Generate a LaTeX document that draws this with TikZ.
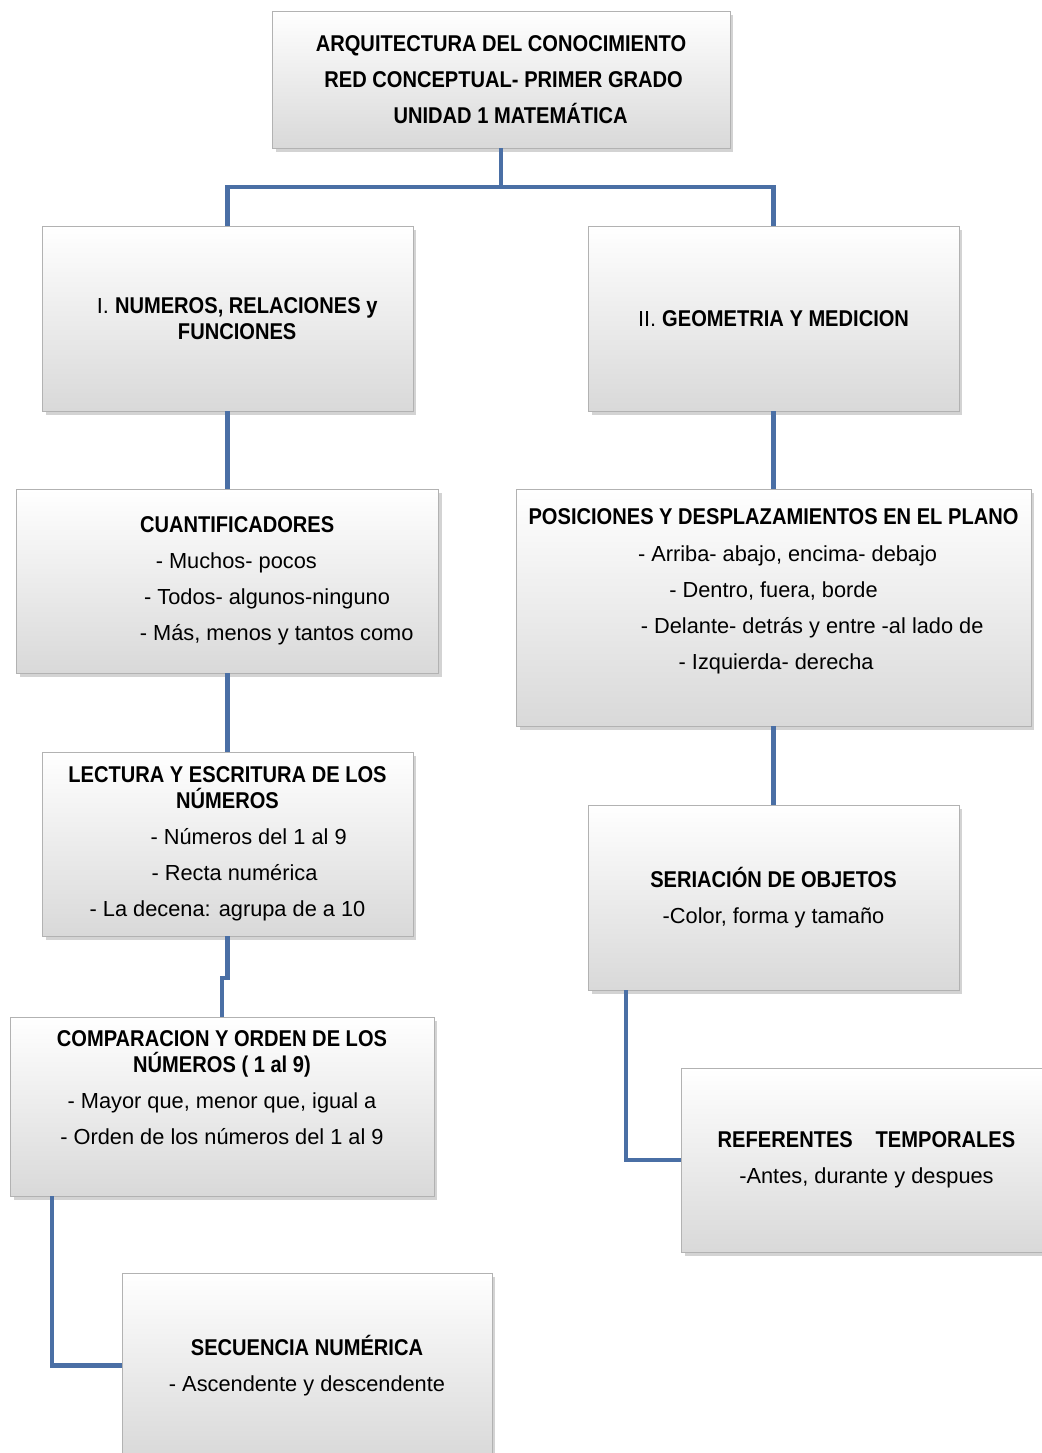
\documentclass[tikz,border=0pt]{standalone}
\usepackage{fontspec}
\setmainfont{Liberation Sans}
\newfontfamily\headfont{Liberation Sans}[FakeStretch=0.88]
\usetikzlibrary{shadows}
\definecolor{linkblue}{HTML}{4A6FA5}
\newcommand\headtxt[1]{{\headfont\bfseries\fontsize{13}{20.5}\selectfont #1}}
\newcommand\lowpad[1]{\rule[-#1]{0pt}{#1}}

\begin{document}
\begin{tikzpicture}[x=0.02cm,y=-0.02cm,
  box/.style={draw=gray!60,top color=white,bottom color=gray!30,
    drop shadow={shadow xshift=2pt,shadow yshift=-2.5pt,opacity=0.35},
    align=center,inner sep=2pt,font=\fontsize{12.4}{20.5}\selectfont},
  link/.style={draw=linkblue,line width=2.3pt}]
  \useasboundingbox (0,0) rectangle (1041,1453);
  \node[box,minimum width=9.16cm,minimum height=2.74cm] (title) at (501,79.5)
    {\headtxt{ARQUITECTURA DEL CONOCIMIENTO}\\
     \hspace*{3pt}\headtxt{RED CONCEPTUAL- PRIMER GRADO}\\
     \hspace*{11pt}\headtxt{UNIDAD 1 MATEMÁTICA}};
  \node[box,minimum width=7.42cm,minimum height=3.7cm] (n1) at (227.5,318.5)
    {\hspace*{11pt}I. \headtxt{NUMEROS, RELACIONES y}\\[-5.7pt]
     \hspace*{11pt}\headtxt{FUNCIONES}};
  \node[box,minimum width=7.42cm,minimum height=3.7cm] (n2) at (773.5,318.5)
    {II. \headtxt{GEOMETRIA Y MEDICION}};
  \node[box,minimum width=8.44cm,minimum height=3.68cm] (cuant) at (227.5,581)
    {\hspace*{11pt}\headtxt{CUANTIFICADORES}\\
     \hspace*{10pt}- Muchos- pocos\\
     \hspace*{45pt}- Todos- algunos-ninguno\\
     \hspace*{56pt}- Más, menos y tantos como};
  \node[box,minimum width=10.3cm,minimum height=4.74cm] (pos) at (773.5,607.5)
    {\headtxt{POSICIONES Y DESPLAZAMIENTOS EN EL PLANO}\\
     \hspace*{16pt}- Arriba- abajo, encima- debajo\\
     - Dentro, fuera, borde\\
     \hspace*{44pt}- Delante- detrás y entre -al lado de\\
     \hspace*{3pt}- Izquierda- derecha\lowpad{21pt}};
  \node[box,minimum width=7.42cm,minimum height=3.68cm] (lect) at (227.5,844)
    {\headtxt{LECTURA Y ESCRITURA DE LOS}\\[-5.7pt]
     \headtxt{NÚMEROS}\\
     \hspace*{24pt}- Números del 1 al 9\\
     \hspace*{8pt}- Recta numérica\\
     - La decena: agrupa de a 10};
  \node[box,minimum width=7.42cm,minimum height=3.7cm] (seri) at (773.5,897.5)
    {\headtxt{SERIACIÓN DE OBJETOS}\\
     -Color, forma y tamaño};
  \node[box,minimum width=8.48cm,minimum height=3.58cm] (comp) at (222,1106.5)
    {\headtxt{COMPARACION Y ORDEN DE LOS}\\[-5.7pt]
     \headtxt{NÚMEROS ( 1 al 9)}\\
     - Mayor que, menor que, igual a\\
     - Orden de los números del 1 al 9\lowpad{22pt}};
  \node[box,minimum width=7.42cm,minimum height=3.68cm] (refe) at (866.5,1160)
    {\headtxt{REFERENTES\quad TEMPORALES}\\
     -Antes, durante y despues};
  \node[box,minimum width=7.4cm,minimum height=3.7cm] (secu) at (307,1365.5)
    {\headtxt{SECUENCIA NUMÉRICA}\\
     - Ascendente y descendente};
  \coordinate (split) at (501,187);
  \draw[link] (title.south) -- (split) (n1.north) |- (split) -| (n2.north);
  \draw[link] (n1.south) -- (cuant.north) (cuant.south) -- (lect.north);
  \draw[link] (n2.south) -- (pos.north) (pos.south) -- (seri.north);
  \draw[link] (lect.south) -- ++(0,42) -| (comp.north);
  \draw[link] ([xshift=0.84cm]comp.south west) |- (secu.west);
  \draw[link] ([xshift=0.76cm]seri.south west) |- (refe.west);
\end{tikzpicture}
\end{document}
